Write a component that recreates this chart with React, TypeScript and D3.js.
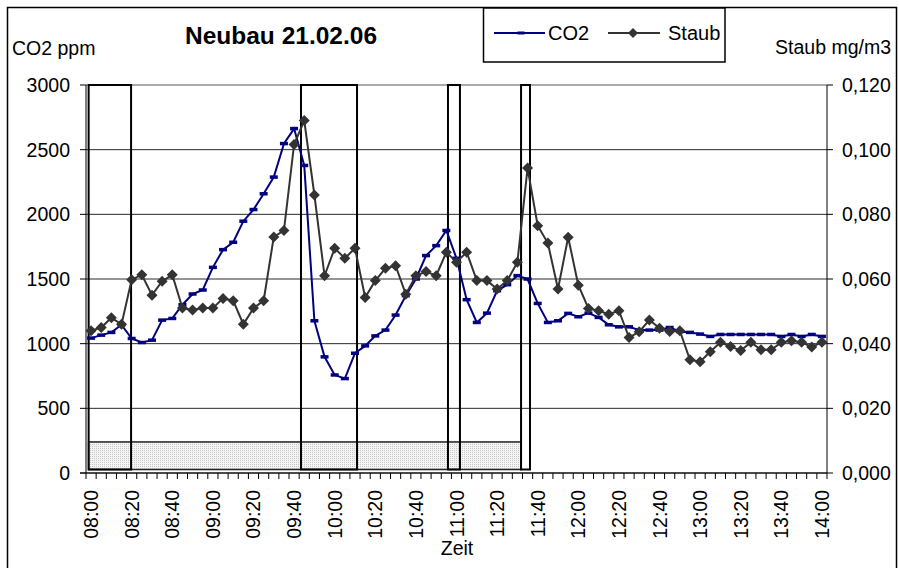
import React from 'react';
import * as d3 from 'd3';

// Messwerte alle 5 Minuten, 08:00 - 14:00
const times: string[] = d3.range(0, 365, 5).map((m) => d3.timeFormat('%H:%M')(new Date(2006, 1, 21, 8, m)));

const co2: number[] = [
    1043, 1066, 1087, 1146, 1040, 1009, 1027, 1182, 1195, 1301, 1384, 1415, 1590, 1727, 1784, 1947, 2037, 2159, 2288,
    2547, 2663, 2378, 1177, 898, 758, 730, 926, 983, 1060, 1105, 1221, 1371, 1500, 1681, 1758, 1875, 1660, 1340, 1164,
    1236, 1409, 1456, 1526, 1500, 1311, 1164, 1177, 1234, 1208, 1236, 1203, 1146, 1130, 1130, 1105, 1105, 1105, 1125,
    1094, 1087, 1074, 1056, 1071, 1071, 1071, 1071, 1071, 1071, 1056, 1071, 1056, 1071, 1056,
];

const staub: number[] = [
    0.044, 0.045, 0.048, 0.046, 0.0598, 0.0613, 0.055, 0.0593, 0.0613, 0.051, 0.0504, 0.051, 0.051, 0.054, 0.0533,
    0.046, 0.051, 0.0533, 0.073, 0.075, 0.1016, 0.109, 0.086, 0.061, 0.0695, 0.0664, 0.0695, 0.0543, 0.0595, 0.0633,
    0.0641, 0.0553, 0.061, 0.0623, 0.061, 0.0683, 0.0652, 0.0683, 0.0595, 0.0595, 0.0569, 0.0595, 0.0652, 0.0943,
    0.0765, 0.0711, 0.0569, 0.0729, 0.0581, 0.0509, 0.0502, 0.0491, 0.0502, 0.0419, 0.0437, 0.0473, 0.0448, 0.0438,
    0.044, 0.035, 0.0344, 0.0375, 0.0404, 0.0391, 0.0379, 0.0404, 0.0381, 0.0381, 0.0404, 0.0409, 0.0404, 0.039,
    0.0404,
];

// markierte Zeitfenster (Minuten nach 08:00)
const boxStart: number[] = [-1.2, 103.4, 175.8, 211.8];
const boxEnd: number[] = [19.7, 131.0, 181.7, 216.2];
const hatchStart = -1.2;
const hatchEnd = 211.8;
const hatchTop = 240; // ppm

const leftTicks: number[] = [0, 500, 1000, 1500, 2000, 2500, 3000];
const rightTicks: number[] = [0, 0.02, 0.04, 0.06, 0.08, 0.1, 0.12];

const font = '"Liberation Sans", Arial, sans-serif';

export default function App() {
    const left = 86;
    const right = 827;
    const top = 85;
    const bottom = 473;

    const x = d3.scaleBand<string>().domain(times).range([left, right]);
    const bw = x.bandwidth();
    const cx = (t: string) => (x(t) as number) + bw / 2;
    const xMin = d3.scaleLinear().domain([-2.5, 362.5]).range([left, right]);
    const y = d3.scaleLinear().domain([0, 3000]).range([bottom, top]);
    const y2 = d3.scaleLinear().domain([0, 0.12]).range([bottom, top]);

    const co2Line = d3
        .line<number>()
        .x((d, i) => cx(times[i]))
        .y((d) => y(d))(co2);
    const staubLine = d3
        .line<number>()
        .x((d, i) => cx(times[i]))
        .y((d) => y2(d))(staub);

    const fmt = (v: number) => v.toFixed(3).replace('.', ',');
    const boxBottom = bottom - 3.5;

    return (
        <svg width={899} height={568} style={{ position: 'absolute', left: 0, top: 0 }} fontFamily={font}>
            <defs>
                <pattern id="dots" width={2} height={2} patternUnits="userSpaceOnUse">
                    <rect width={2} height={2} fill="#f4f4f4" />
                    <rect width={1} height={1} fill="#c8c8c8" />
                </pattern>
            </defs>
            <rect x={0} y={0} width={899} height={568} fill="#fff" />
            <rect x={7.5} y={7.5} width={889} height={570} fill="none" stroke="#000" strokeWidth={1.5} />

            {/* Titel */}
            <text x={281} y={44} textAnchor="middle" fontSize={24.5} fontWeight="bold">
                Neubau 21.02.06
            </text>
            <text x={12} y={55} fontSize={19.5}>
                CO2 ppm
            </text>
            <text x={891} y={54} fontSize={19.5} textAnchor="end">
                Staub mg/m3
            </text>

            {/* Gitter */}
            {leftTicks.map((t) => (
                <line
                    key={'g' + t}
                    x1={left}
                    x2={right}
                    y1={y(t)}
                    y2={y(t)}
                    stroke={t === 3000 ? '#aaa' : '#2a2a2a'}
                    strokeWidth={t === 3000 ? 2 : 1}
                />
            ))}

            {/* Schraffur und Zeitfenster */}
            <rect
                x={xMin(hatchStart)}
                y={y(hatchTop)}
                width={xMin(hatchEnd) - xMin(hatchStart)}
                height={boxBottom - y(hatchTop)}
                fill="url(#dots)"
                stroke="#222"
                strokeWidth={1.5}
            />
            {boxStart.map((s, i) => (
                <rect
                    key={'b' + i}
                    x={xMin(s)}
                    y={top}
                    width={xMin(boxEnd[i]) - xMin(s)}
                    height={boxBottom - top}
                    fill="none"
                    stroke="#000"
                    strokeWidth={2}
                />
            ))}

            {/* Achsen */}
            <line x1={left} x2={left} y1={top} y2={bottom} stroke="#000" />
            <line x1={right} x2={right} y1={top} y2={bottom} stroke="#000" />
            <line x1={left - 6} x2={right} y1={bottom} y2={bottom} stroke="#000" />
            {leftTicks.map((t) => (
                <g key={'l' + t}>
                    <line x1={left - 6} x2={left} y1={y(t)} y2={y(t)} stroke="#000" />
                    <text x={70} y={y(t)} dy="0.36em" textAnchor="end" fontSize={19.5}>
                        {t}
                    </text>
                </g>
            ))}
            {rightTicks.map((t) => (
                <g key={'r' + t}>
                    <line x1={right} x2={right + 6} y1={y2(t)} y2={y2(t)} stroke="#000" />
                    <text x={842} y={y2(t)} dy="0.36em" fontSize={19.5}>
                        {fmt(t)}
                    </text>
                </g>
            ))}
            {times.map((t) => (
                <line key={'t' + t} x1={x(t)} x2={x(t)} y1={bottom} y2={bottom + 6} stroke="#000" />
            ))}
            <line x1={right} x2={right} y1={bottom} y2={bottom + 6} stroke="#000" />
            {times
                .filter((t, i) => i % 4 === 0)
                .map((t) => (
                    <text
                        key={'x' + t}
                        transform={`translate(${cx(t) + 7},490) rotate(-90)`}
                        textAnchor="end"
                        fontSize={19.5}
                    >
                        {t}
                    </text>
                ))}
            <text x={457} y={555} textAnchor="middle" fontSize={19.5}>
                Zeit
            </text>

            {/* Reihen */}
            <path d={co2Line ?? ''} fill="none" stroke="#000080" strokeWidth={2} />
            {co2.map((v, i) => (
                <rect key={'c' + i} x={cx(times[i]) - 4} y={y(v) - 1.75} width={8} height={3.5} fill="#000080" />
            ))}
            <path d={staubLine ?? ''} fill="none" stroke="#333" strokeWidth={2} />
            {staub.map((v, i) => (
                <path
                    key={'s' + i}
                    d={`M${cx(times[i])},${y2(v) - 5.5}l5.5,5.5l-5.5,5.5l-5.5,-5.5z`}
                    fill="#333"
                />
            ))}

            {/* Legende */}
            <rect x={483.5} y={8} width={241.5} height={54} fill="#fff" stroke="#000" strokeWidth={1.5} />
            <line x1={494} x2={545} y1={33} y2={33} stroke="#000080" strokeWidth={2} />
            <rect x={517.5} y={31.5} width={7} height={3} fill="#000080" />
            <text x={548} y={40} fontSize={20}>
                CO2
            </text>
            <line x1={608} x2={660} y1={33} y2={33} stroke="#333" strokeWidth={2} />
            <path d="M633,28l5,5l-5,5l-5,-5z" fill="#333" />
            <text x={668} y={40} fontSize={20}>
                Staub
            </text>
        </svg>
    );
}
